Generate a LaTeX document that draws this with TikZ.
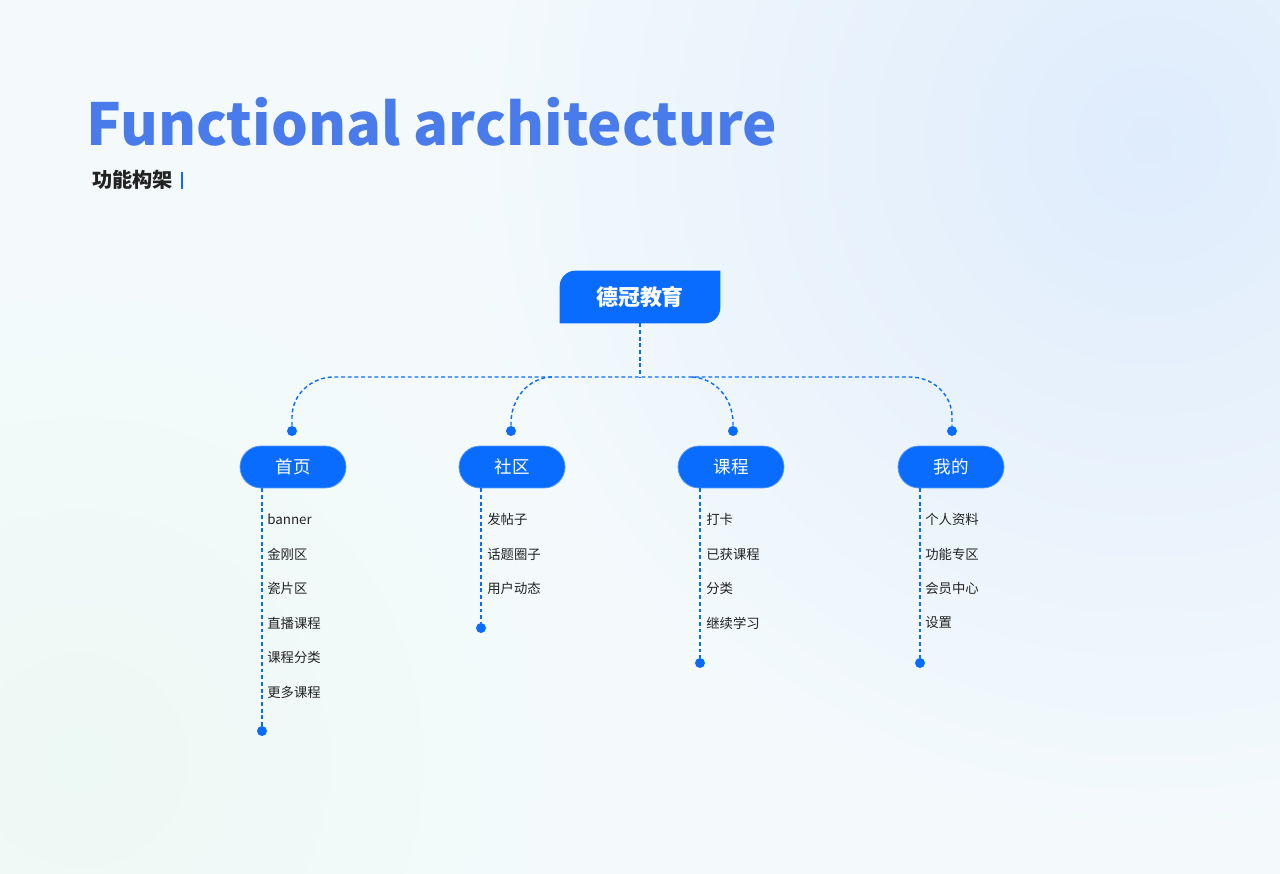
\documentclass[tikz,border=0pt]{standalone}
\usepackage{fontspec}
\setmainfont{Noto Sans CJK SC}
\usepackage{tikz}
\usetikzlibrary{positioning, calc}

\definecolor{bgbase}{HTML}{F4FAFC}
\definecolor{bgblue}{HTML}{DFECFC}
\definecolor{bggreen}{HTML}{EDF9F4}
\definecolor{titleblue}{HTML}{4A7BEB}
\definecolor{boxblue}{HTML}{0A6CFF}
\definecolor{itemtext}{HTML}{222222}

\tikzset{
    pill/.style={fill=boxblue, draw=boxblue!70!white, line width=0.4pt, rounded corners=0.42cm,
        minimum width=2.12cm, minimum height=0.84cm, inner sep=0pt,
        text=white, font=\fontsize{10}{12}\selectfont},
    bus/.style={boxblue, line width=0.8pt, dash pattern=on 2.2pt off 1.6pt},
    dot/.style={circle, fill=boxblue, inner sep=0pt, minimum size=0.2cm},
    item/.style={anchor=west, inner sep=0pt, text=itemtext, font=\fontsize{7.6}{9}\selectfont}
}

\begin{document}
\begin{tikzpicture}[x=0.02cm, y=-0.02cm]
    % Background
    \useasboundingbox (0,0) rectangle (1280,874);
    \fill[bgbase] (0,0) rectangle (1280,874);
    \begin{scope}
        \clip (0,0) rectangle (1280,874);
        \shade[inner color=bgblue, outer color=bgbase] (1150,140) circle (14cm);
        \shade[inner color=bggreen, outer color=bgbase] (80,760) circle (10cm);
    \end{scope}

    % Title
    \node[anchor=base west, inner sep=0pt, text=titleblue, font=\fontsize{33}{36}\selectfont\bfseries] (title) at (86,146) {Functional architecture};
    \node[anchor=base west, inner sep=0pt, text=itemtext, font=\fontsize{11.5}{13}\selectfont\bfseries] (subtitle) at (92,188) {功能构架};
    \node[right=4pt of subtitle, fill=boxblue, inner sep=0pt, minimum width=1.4pt, minimum height=10pt] (bar) {};

    % Root
    \node[minimum width=3.2cm, minimum height=1.04cm, inner sep=0pt] (root) at (640,297) {};
    \fill[boxblue] (root.south west) -- ([yshift=-9pt]root.north west) arc[start angle=180, end angle=90, radius=9pt]
        -- (root.north east) -- ([yshift=9pt]root.south east) arc[start angle=0, end angle=-90, radius=9pt] -- cycle;
    \node[text=white, font=\fontsize{12.5}{14}\selectfont\bfseries] (rootlabel) at (root) {德冠教育};

    % Modules
    \node[pill] (home) at (293,467) {首页};
    \node[pill] (community) at (512,467) {社区};
    \node[pill] (course) at (731,467) {课程};
    \node[pill] (mine) at (951,467) {我的};

    % Connector dots
    \node[dot] (d1) at (292,431) {};
    \node[dot] (d2) at (511,431) {};
    \node[dot] (d3) at (733,431) {};
    \node[dot] (d4) at (952,431) {};
    \coordinate (hub) at (640,377);

    % Tree lines
    \draw[bus] (root.south) -- (hub);
    \draw[bus] (d1) -- ++(0,-14) to[out=90, in=180] ++(42,-40) -- ($(d4)+(-42,-54)$) to[out=0, in=90] ++(42,40) -- (d4);
    \draw[bus] (d2) -- ++(0,-8) to[out=90, in=180] (553,377);
    \draw[bus] (d3) -- ++(0,-8) to[out=90, in=0] (690,377);

    % End dots
    \node[dot] (e1) at (262,731) {};
    \node[dot] (e2) at (481,628) {};
    \node[dot] (e3) at (700,663) {};
    \node[dot] (e4) at (920,663) {};

    \draw[bus] (home.south -| e1) -- (e1);
    \draw[bus] (community.south -| e2) -- (e2);
    \draw[bus] (course.south -| e3) -- (e3);
    \draw[bus] (mine.south -| e4) -- (e4);

    % Home items
    \node[item] (h1) at (267,519) {banner};
    \node[item] (h2) at (267,554) {金刚区};
    \node[item] (h3) at (267,588) {瓷片区};
    \node[item] (h4) at (267,623) {直播课程};
    \node[item] (h5) at (267,657) {课程分类};
    \node[item] (h6) at (267,692) {更多课程};

    % Community items
    \node[item] (c1) at (487,519) {发帖子};
    \node[item] (c2) at (487,554) {话题圈子};
    \node[item] (c3) at (487,588) {用户动态};

    % Course items
    \node[item] (k1) at (706,519) {打卡};
    \node[item] (k2) at (706,554) {已获课程};
    \node[item] (k3) at (706,588) {分类};
    \node[item] (k4) at (706,623) {继续学习};

    % Mine items
    \node[item] (m1) at (925,519) {个人资料};
    \node[item] (m2) at (925,554) {功能专区};
    \node[item] (m3) at (925,588) {会员中心};
    \node[item] (m4) at (925,623) {设置};
\end{tikzpicture}
\end{document}
